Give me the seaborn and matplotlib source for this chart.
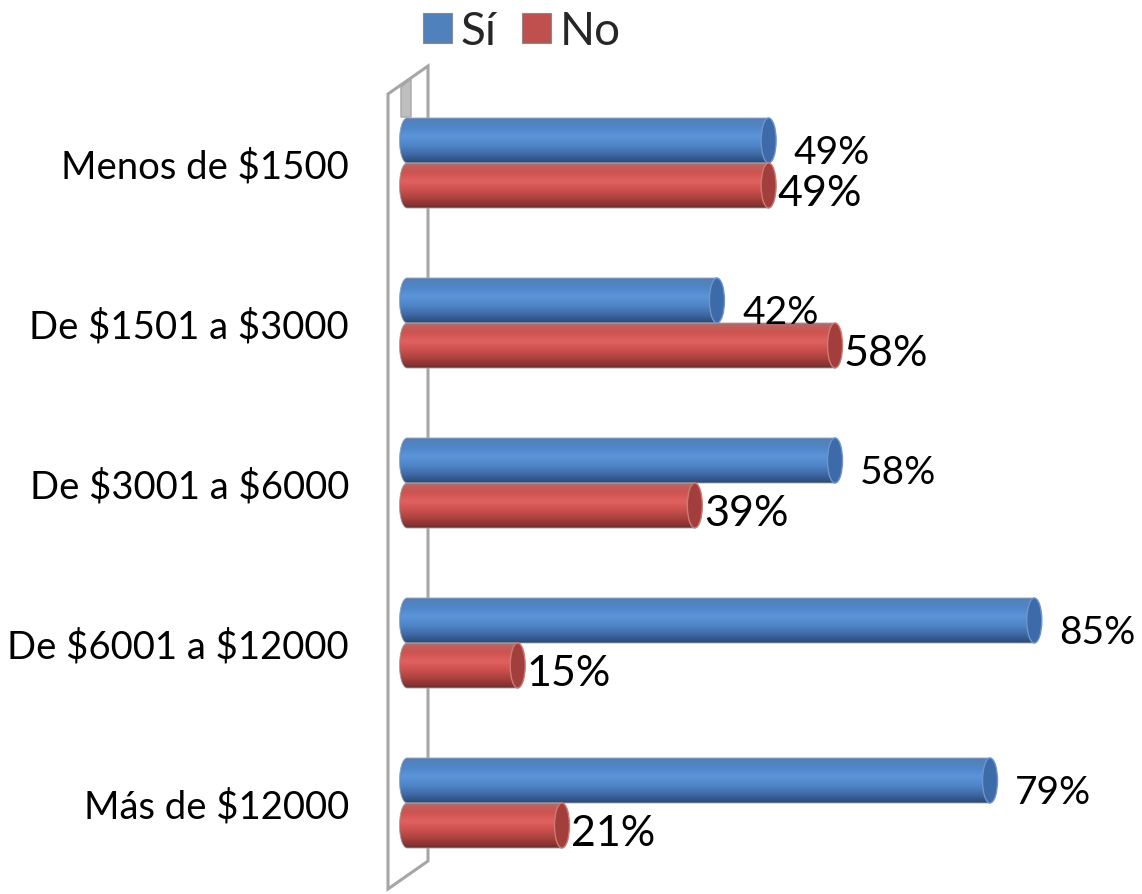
import numpy as np
import pandas as pd
import matplotlib
matplotlib.use("Agg")
import matplotlib.pyplot as plt
import seaborn as sns
from matplotlib.patches import Ellipse, Polygon, Rectangle, PathPatch
from matplotlib.path import Path
from matplotlib.colors import LinearSegmentedColormap

categories = ["Menos de $1500", "De $1501 a $3000", "De $3001 a $6000",
              "De $6001 a $12000", "Más de $12000"]
series = ["Sí", "No"]
si_values = [49, 42, 58, 85, 79]
no_values = [49, 58, 39, 15, 21]

W, H = 1142, 895
sns.set_theme(style="white")
plt.rcParams["font.family"] = ["Lato", "DejaVu Sans"]
plt.rcParams["text.parse_math"] = False

df = pd.DataFrame({
    "cat": categories * 2,
    "serie": [series[0]] * len(si_values) + [series[1]] * len(no_values),
    "val": si_values + no_values,
})

base = {"Sí": "#4F81BD", "No": "#C0504D"}
grad = {
    "Sí": ["#5a7fb0", "#4f86c9", "#5b94d8", "#4f86c9", "#3f6ca8", "#2a4a78"],
    "No": ["#b06a68", "#d0524f", "#e06260", "#cc504d", "#a8403d", "#7a2c2a"],
}
cap_col = {"Sí": "#3d6aa8", "No": "#a23f3c"}
cap_edge = {"Sí": "#6f95c8", "No": "#cf7a77"}
label_size = {"Sí": 28, "No": 31}
label_dx = {"Sí": 3.4, "No": 1.2}
label_dy = {"Sí": 0.075, "No": 0.05}

fig = plt.figure(figsize=(W / 100, H / 100), dpi=100)
ax = fig.add_axes([399 / W, 1 - 884 / H, (W - 399) / W, 800 / H])
ax.patch.set_visible(False)

sns.barplot(data=df, y="cat", x="val", hue="serie", orient="h",
            palette=base, width=0.5625, ax=ax, legend=False,
            saturation=1, edgecolor="none")

px_per_unit = 7.38
cw = 15 / px_per_unit  # cap width in data units

for cont, s in zip(ax.containers, series):
    cmap = LinearSegmentedColormap.from_list("g" + s, grad[s])
    vals = si_values if s == "Sí" else no_values
    for patch, v in zip(cont.patches, vals):
        x0, y0 = patch.get_x(), patch.get_y()
        w, h = patch.get_width(), patch.get_height()
        x1 = x0 + w
        yc = y0 + h / 2
        patch.set_visible(False)
        t = np.linspace(0, np.pi, 40)
        arc = np.column_stack([x0 - (cw / 2) * np.sin(t),
                               yc + (h / 2) * np.cos(t)])
        verts = np.vstack([[[x0, y0], [x1, y0], [x1, y0 + h], [x0, y0 + h]],
                           arc, [[x0, y0]]])
        shape = PathPatch(Path(verts), facecolor="none", edgecolor="#9aa6b4",
                          lw=0.6, zorder=3)
        ax.add_patch(shape)
        g = np.linspace(0, 1, 64).reshape(-1, 1)
        im = ax.imshow(g, cmap=cmap, aspect="auto", origin="upper",
                       extent=(x0 - cw, x1, y0 + h, y0), zorder=2,
                       interpolation="bilinear")
        im.set_clip_path(shape)
        ax.add_patch(Ellipse((x1, yc), cw, h, facecolor=cap_col[s],
                             edgecolor=cap_edge[s], lw=1.0, zorder=4))
        ax.text(x1 + label_dx[s], yc + label_dy[s], f"{v}%",
                fontsize=label_size[s], ha="left", va="center",
                color="black", clip_on=False, zorder=5)

ax.set_xlim(-8 / px_per_unit, (W - 407) / px_per_unit)
ax.set_ylim(len(categories) - 0.5, -0.5)
ax.set_xlabel("")
ax.set_ylabel("")
ax.set_xticks([])
ax.tick_params(axis="y", length=0, pad=36, labelsize=27.5, labelcolor="black")
for sp in ax.spines.values():
    sp.set_visible(False)


def fp(x, y):
    return (x / W, 1 - y / H)


wall = Polygon([fp(388, 95), fp(428, 67), fp(428, 862), fp(388, 890)],
               closed=True, facecolor="white", edgecolor="#a6a6a6", lw=2.2,
               transform=fig.transFigure, clip_on=False, zorder=0.5)
ax.add_patch(wall)
strip = Polygon([fp(401, 88), fp(411, 80), fp(411, 118), fp(401, 118)],
                closed=True, facecolor="#bfbfbf", edgecolor="#a6a6a6", lw=1,
                transform=fig.transFigure, clip_on=False, zorder=0.6)
ax.add_patch(strip)

handles = [Rectangle((0, 0), 1, 1, facecolor=base[s], edgecolor="#8a8a8a", lw=0.8)
           for s in series]
fig.legend(handles, series, loc="center", bbox_to_anchor=(522 / W, 1 - 32 / H),
           ncol=2, frameon=False, fontsize=33, handlelength=0.62,
           handleheight=0.62, handletextpad=0.2, columnspacing=0.55)

fig.savefig("out.png", dpi=100)
